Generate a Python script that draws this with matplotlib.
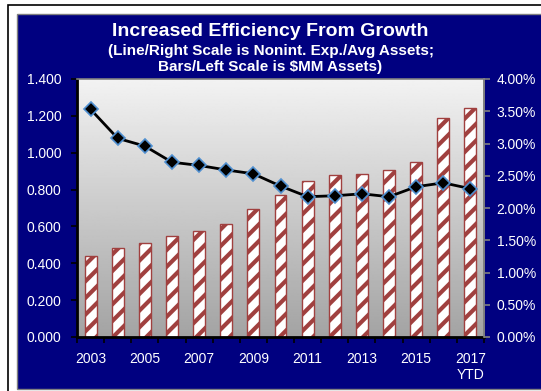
import numpy as np
import matplotlib.pyplot as plt
from matplotlib.patches import Rectangle

# data
years = ['2003', '2004', '2005', '2006', '2007', '2008', '2009', '2010',
         '2011', '2012', '2013', '2014', '2015', '2016', '2017']
assets_mm = [0.440, 0.481, 0.508, 0.550, 0.577, 0.611, 0.693, 0.772,
             0.845, 0.879, 0.886, 0.908, 0.948, 1.190, 1.244]
nonint_pct = [3.53, 3.08, 2.96, 2.71, 2.66, 2.59, 2.53, 2.34,
              2.175, 2.19, 2.22, 2.175, 2.33, 2.39, 2.30]
tick_labels = ['2003', '', '2005', '', '2007', '', '2009', '', '2011', '',
               '2013', '', '2015', '', '2017\nYTD']

NAVY = '#000080'
BAR_RED = '#a0403f'

plt.rcParams['font.family'] = ['Liberation Sans', 'DejaVu Sans']
plt.rcParams['hatch.linewidth'] = 3.0
plt.rcParams['hatch.color'] = BAR_RED

W, H = 541, 391
fig = plt.figure(figsize=(W / 100, H / 100), dpi=100)
fig.patch.set_facecolor('white')

# outer frame: thin black line, then navy panel
fig.patches.append(Rectangle((8 / W, -0.1), 1.2, 1 - 5 / H + 0.1, transform=fig.transFigure,
                             facecolor='none', edgecolor='black', linewidth=1.2, zorder=-5))
fig.patches.append(Rectangle((16.5 / W, 2 / H), 1.0, 1 - 16 / H, transform=fig.transFigure,
                             facecolor=NAVY, edgecolor='#808080', linewidth=1, zorder=-5))

ax = fig.add_axes([77 / W, 54 / H, (484 - 77) / W, (337 - 79) / H])
x = np.arange(len(years))

# gradient plot background: darker grey at top, nearly white at bottom
grad = np.linspace(0.64, 0.95, 256).reshape(-1, 1)
ax.imshow(grad, extent=[-0.5, len(years) - 0.5, 0, 1.4], aspect='auto',
          cmap='gray', vmin=0, vmax=1, origin='lower', zorder=0)

ax.bar(x, assets_mm, width=0.44, facecolor='white', edgecolor=BAR_RED,
       hatch='//', linewidth=1.0, zorder=2)

ax.set_xlim(-0.5, len(years) - 0.5)
ax.set_ylim(0, 1.4)
ax.set_yticks(np.arange(0, 1.41, 0.2))
ax.set_yticklabels([f'{v:.3f}' for v in np.arange(0, 1.41, 0.2)])
ax.set_xticks(np.arange(-0.5, len(years), 1.0))
ax.set_xticklabels([])
ax.set_xticks(x, minor=True)
ax.set_xticklabels(tick_labels, minor=True)
ax.tick_params(axis='x', which='major', direction='out', length=4, width=1.2, color='black')
ax.tick_params(axis='x', which='minor', length=0, pad=11, labelcolor='white', labelsize=10)
ax.tick_params(axis='y', direction='out', length=4, width=1.2, color='black',
               labelcolor='white', labelsize=10, pad=7)

for side in ['left', 'bottom']:
    ax.spines[side].set_color('black')
    ax.spines[side].set_linewidth(2)
for side in ['top', 'right']:
    ax.spines[side].set_color('#808080')
    ax.spines[side].set_linewidth(1.2)

ax2 = ax.twinx()
ax2.plot(x, nonint_pct, color='black', linewidth=2, marker='D', markersize=7,
         markerfacecolor='black', markeredgecolor='#4f8fd0', markeredgewidth=1.2, zorder=3)
ax2.set_ylim(0, 4.0)
ax2.set_yticks(np.arange(0, 4.01, 0.5))
ax2.set_yticklabels([f'{v:.2f}%' for v in np.arange(0, 4.01, 0.5)])
ax2.tick_params(axis='y', direction='out', length=4, width=1.2, color='#808080',
                labelcolor='white', labelsize=10, pad=5)
for side in ['left', 'bottom', 'top']:
    ax2.spines[side].set_visible(False)
ax2.spines['right'].set_color('#808080')
ax2.spines['right'].set_linewidth(1.2)

fig.text(0.5, 1 - 31 / H, 'Increased Efficiency From Growth', ha='center', va='center',
         color='white', fontsize=14, fontweight='bold')
fig.text(0.5, 1 - 59 / H, '(Line/Right Scale is Nonint. Exp./Avg Assets;\nBars/Left Scale is $MM Assets)',
         ha='center', va='center', color='white', fontsize=11, fontweight='bold', linespacing=1.1)

fig.savefig('out.png', dpi=100)
